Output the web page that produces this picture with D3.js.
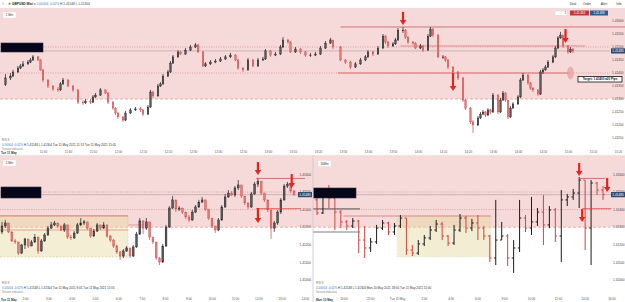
<!DOCTYPE html>
<html>
<head>
<meta charset="utf-8">
<script src="https://cdn.jsdelivr.net/npm/d3@7"></script>
<style>
body { margin: 0; background: #fff; }
svg { display: block; font-family: "Liberation Sans", Arial, sans-serif; }
</style>
</head>
<body>
<svg id="chart" width="625" height="302"></svg>
<script>
// prices are kept as pips above 1.41000
var BASE = 1.41;
function px(v) { return BASE + v / 10000; }

// 1 min bars: [minute after 11:20, close, high, low], open = previous close
var topOpen = 35.5;
var topBars = [
[-5,38.1,39.6,35.0],[-3,38.8,40.0,37.3],[-2,40.4,41.2,38.5],[0,41.9,42.7,40.0],[1,42.7,43.5,41.5],
[2,43.5,44.6,42.3],[4,44.2,45.0,43.1],[5,45.0,45.8,43.8],[6,46.2,46.9,44.6],[8,45.0,46.5,44.6],
[9,41.2,45.4,40.8],[10,37.3,41.5,36.5],[12,35.0,37.7,34.2],[14,33.8,35.4,33.1],[16,33.5,34.6,32.7],
[17,35.8,36.5,33.1],[18,37.3,38.1,35.4],[20,35.0,37.7,34.6],[22,33.5,35.4,32.7],[24,28.8,33.8,28.1],
[26,28.5,29.6,27.7],[27,29.2,30.0,28.1],[29,28.8,30.0,28.1],[30,30.8,31.5,28.5],[31,31.5,32.3,30.4],
[33,33.5,34.2,31.2],[35,32.3,33.8,31.9],[36,28.8,32.7,28.1],[38,26.5,29.2,25.8],[39,24.6,26.9,23.8],
[40,23.1,25.0,22.3],[42,21.9,23.5,21.2],[43,24.6,25.4,21.5],[45,25.8,26.5,24.2],[47,26.2,26.9,25.4],
[49,25.8,26.9,25.0],[50,24.2,26.2,23.5],[52,26.9,27.7,23.8],[53,32.7,33.5,26.5],[54,31.2,33.1,30.4],
[56,35.0,35.8,30.8],[57,35.8,36.5,34.6],[58,38.8,39.6,35.4],[60,40.4,41.2,38.5],[61,43.8,44.6,40.0],
[62,46.2,46.9,43.5],[64,48.1,48.8,45.8],[65,47.3,48.5,46.9],[67,48.8,49.6,47.0],[69,50.0,50.8,48.5],
[71,50.8,51.5,49.6],[72,48.1,51.2,47.7],[74,42.7,48.5,42.3],[75,43.5,44.2,42.3],[77,44.2,45.0,43.1],
[79,44.6,45.4,43.8],[81,45.4,46.2,44.2],[83,46.2,46.9,45.0],[85,46.9,47.7,45.8],[87,45.0,47.3,44.6],
[88,41.9,45.4,41.2],[90,41.2,42.3,40.4],[92,45.0,45.8,40.8],[94,42.7,45.4,42.3],[96,45.0,45.8,42.3],
[98,45.4,46.2,44.6],[99,48.5,49.2,45.0],[101,46.9,48.8,46.2],[103,47.3,48.1,46.5],[105,50.0,50.8,46.9],
[106,52.7,53.8,49.6],[108,51.9,53.1,51.2],[109,48.1,52.3,47.7],[111,49.2,50.0,47.7],[113,48.1,49.6,47.3],
[115,46.9,48.5,46.2],[117,46.9,47.7,46.2],[119,47.3,48.1,46.5],[121,49.6,50.4,46.9],[123,51.5,52.3,49.2],
[125,52.7,53.5,51.2],[126,50.0,52.7,49.2],[129,45.0,50.4,44.6],[131,44.2,45.4,43.5],[133,42.3,44.6,41.5],
[135,43.5,44.2,41.9],[137,45.0,45.8,43.1],[139,46.2,46.9,44.6],[140,48.1,48.8,45.8],[142,47.3,48.5,46.5],
[144,49.6,50.4,46.9],[146,54.2,55.0,49.2],[147,51.9,54.6,51.2],[148,50.4,52.3,49.6],[150,51.2,51.9,50.0],
[151,52.7,53.5,50.8],[152,56.5,57.3,52.3],[154,56.5,57.7,55.4],[155,53.8,56.9,53.1],[156,51.9,54.2,51.2],
[158,51.5,52.3,50.8],[159,49.6,51.9,49.2],[161,50.4,51.2,49.2],[162,48.8,50.8,48.1],[164,54.2,55.0,48.5],
[165,56.9,57.7,53.8],[166,54.6,57.3,53.8],[168,46.2,55.0,45.8],[170,46.2,46.9,45.4],[171,45.0,46.5,44.2],
[172,42.3,45.4,41.5],[174,40.4,42.7,39.6],[176,38.1,40.8,37.3],[178,29.6,38.5,28.8],[179,26.5,30.0,25.8],
[181,21.2,26.9,20.4],[182,20.0,21.9,16.9],[184,22.7,23.5,19.6],[185,24.2,25.0,22.3],[186,25.0,25.8,23.8],
[187,23.8,25.4,23.1],[188,25.8,26.5,23.5],[189,25.0,26.2,24.2],[190,31.5,32.3,24.6],[192,25.0,31.9,24.2],
[193,29.6,30.4,24.6],[194,32.3,33.1,29.2],[195,29.6,32.7,28.8],[196,23.1,29.6,22.3],[197,26.5,27.3,22.7],
[198,28.1,28.8,26.2],[200,30.8,31.5,27.7],[201,37.3,38.1,30.4],[202,39.2,40.0,36.9],[204,36.2,39.6,35.4],
[205,34.2,36.5,33.5],[206,33.5,34.6,32.7],[208,31.9,33.8,31.2],[209,40.4,41.2,31.5],[210,41.2,41.9,39.6],
[211,42.3,43.1,40.8],[212,44.2,45.0,41.9],[214,46.2,46.9,43.8],[215,49.6,50.4,45.8],[216,53.5,54.2,49.2],
[217,54.6,55.8,53.1],[218,50.4,54.2,49.6],[220,48.1,50.8,47.3],[221,49.2,50.0,47.7],[222,48.5,49.6,47.7]
];

// 5 min bars: [close, high, low]
var fiveOpen = 27.3;
var fiveBars = [
[30.7,33.0,26.1],[32.4,34.1,29.5],[27.3,32.4,26.7],[22.2,27.8,21.6],[21.6,23.3,20.5],
[15.3,21.6,14.2],[19.9,20.5,14.8],[23.3,23.9,17.6],[19.3,23.3,18.2],[21.6,22.7,19.3],
[24.4,26.1,21.0],[16.5,24.4,14.8],[22.2,23.3,16.0],[25.6,26.7,21.6],[29.5,30.7,25.0],
[31.3,33.0,29.0],[32.4,33.6,30.7],[30.7,32.4,29.5],[28.4,30.7,27.8],[31.3,32.4,27.3],
[24.4,31.3,23.3],[23.9,25.6,22.7],[26.7,27.8,23.3],[31.3,32.4,26.1],[32.4,35.2,30.7],
[33.0,34.1,31.3],[29.5,33.0,28.4],[25.0,29.5,23.9],[27.8,29.0,24.4],[31.3,32.4,27.3],
[29.5,31.3,28.4],[31.3,33.0,29.0],[25.0,31.3,23.9],[22.7,25.6,21.6],[19.3,23.3,18.2],
[15.9,19.9,14.8],[13.6,16.5,11.4],[16.5,17.6,12.5],[18.2,19.3,15.9],[13.6,18.2,12.5],
[18.8,19.9,13.1],[26.1,27.3,18.2],[33.6,35.2,25.6],[29.5,33.6,26.1],[33.0,35.2,28.4],
[24.4,33.0,22.7],[21.6,24.4,20.5],[12.5,21.6,11.4],[10.2,13.1,8.5],[19.3,20.5,9.7],
[30.1,31.3,18.8],[40.9,42.0,29.5],[45.5,47.7,40.3],[40.3,45.5,38.6],[40.9,42.0,39.2],
[38.6,40.9,37.5],[35.8,38.6,34.7],[34.1,36.9,33.0],[38.6,39.8,33.6],[41.5,42.6,38.0],
[44.3,45.5,40.9],[45.5,47.2,43.8],[40.3,45.5,39.2],[35.2,40.3,34.1],[30.7,35.2,29.5],
[28.4,30.7,26.7],[34.1,35.2,27.8],[41.5,42.6,33.6],[47.2,48.9,40.9],[49.4,51.1,46.6],
[48.3,50.6,47.7],[52.3,53.4,47.2],[54.0,56.8,51.1],[47.7,54.0,46.6],[43.8,47.7,42.6],
[41.5,43.8,40.3],[48.9,50.0,40.9],[54.5,55.7,48.3],[56.2,58.0,52.8],[49.4,56.2,48.3],
[45.5,49.4,44.3],[39.8,45.5,38.6],[29.5,39.8,23.3],[32.4,33.6,27.3],[38.6,39.8,31.3],
[45.5,46.6,37.5],[53.4,54.5,45.0],[54.5,55.7,52.3],[50.6,54.5,49.4],[48.5,51.1,47.7]
];

// 30 min bars: [close, high, low]
var thirtyOpen = 45.5;
var thirtyBars = [
[38.1,47.2,36.9],[47.7,51.1,37.5],[46.6,54.0,40.9],[38.6,48.3,28.4],[33.0,39.8,29.5],
[30.7,34.1,28.4],[33.5,35.2,29.5],[22.7,34.1,15.3],[18.2,30.7,12.5],[21.6,23.9,15.9],
[29.5,31.3,20.5],[32.4,34.1,28.4],[27.3,33.0,25.6],[30.7,32.4,25.6],[35.2,36.9,29.5],
[17.0,35.2,14.2],[15.3,19.9,13.6],[20.5,22.7,14.2],[23.9,25.6,19.3],[28.4,30.7,22.7],
[31.8,34.1,27.3],[25.0,33.0,22.7],[21.0,25.6,19.3],[28.4,31.3,19.9],[35.2,37.5,27.3],
[29.5,36.4,26.7],[32.4,34.7,27.8],[29.5,36.9,22.7],[25.0,30.7,22.7],[12.5,25.6,10.2],
[22.7,45.5,8.5],[25.0,33.0,22.7],[12.5,26.1,8.0],[18.2,22.7,4.0],[35.2,45.5,15.9],
[29.5,36.9,27.3],[33.0,47.2,25.6],[38.6,40.9,30.7],[31.3,48.3,19.9],[39.8,42.0,29.5],
[25.0,40.9,21.6],[45.5,51.1,10.2],[47.2,48.9,42.0],[49.4,51.7,45.5],[56.8,58.5,40.9],
[29.5,56.8,17.0],[55.1,56.8,8.5],[51.1,55.7,48.3],[48.5,53.4,45.5]
];

var topTicks = [1.4160, 1.4155, 1.4150, 1.4145, 1.4140, 1.4135, 1.4130, 1.4125, 1.4120, 1.4115];
var botTicks = [1.4160, 1.4150, 1.4140, 1.4130, 1.4120, 1.4110, 1.4100];

var zoneLow = 1.4130;          // floor of the pink resistance zone
var roundLevels = [1.4150, 1.4140];
var prevHigh = 1.41577;
var lastPrice = 1.41485;
var targetPrice = 1.4140;
var asiaRange = [1.41364, 1.41131];

// arrows: [position, from price, to price]
var topArrows = [[154, 1.41635, 1.41585], [219, 1.41569, 1.41515], [174, 1.41400, 1.41331]];
var fiveArrows = [[78, 1.41670, 1.41597], [88.3, 1.41602, 1.41523], [78, 1.41409, 1.41324]];
var thirtyArrows = [[44, 1.41665, 1.41591], [44.5, 1.41403, 1.41330], [48.7, 1.41580, 1.41500]];

var PINK = "#f6dada", UP_BODY = "#5a5a5a", UP_WICK = "#1c1c1c", DN_BODY = "#e37d7d", DN_WICK = "#d04545";
var fmt = d3.format(".5f");
var svg = d3.select("#chart");

function toBars(rows, open0, timed) {
    var o = open0;
    return rows.map(function(r, i) {
        var k = timed ? 1 : 0;
        var b = {t: timed ? r[0] : i, o: px(o), c: px(r[k]), h: px(r[k + 1]), l: px(r[k + 2])};
        o = r[k];
        return b;
    });
}

function drawCandles(g, bars, xf, y, w) {
    g.selectAll(".wick").data(bars).join("line")
        .attr("x1", xf).attr("x2", xf)
        .attr("y1", function(d) { return y(d.h); })
        .attr("y2", function(d) { return y(d.l); })
        .attr("stroke", function(d) { return d.c >= d.o ? UP_WICK : DN_WICK; })
        .attr("stroke-width", 0.7);
    g.selectAll(".body").data(bars).join("rect")
        .attr("x", function(d) { return xf(d) - w / 2; })
        .attr("width", w)
        .attr("y", function(d) { return y(Math.max(d.o, d.c)); })
        .attr("height", function(d) { return Math.max(0.7, Math.abs(y(d.o) - y(d.c))); })
        .attr("fill", function(d) { return d.c >= d.o ? UP_BODY : DN_BODY; })
        .attr("stroke", function(d) { return d.c >= d.o ? UP_WICK : DN_WICK; })
        .attr("stroke-width", 0.4);
}

function drawOhlc(g, bars, xf, y, w) {
    var sel = g.selectAll(".bar").data(bars).join("g")
        .attr("stroke", function(d) { return d.c >= d.o ? UP_WICK : DN_WICK; })
        .attr("stroke-width", 1);
    sel.append("line").attr("x1", xf).attr("x2", xf)
        .attr("y1", function(d) { return y(d.h); }).attr("y2", function(d) { return y(d.l); });
    sel.append("line").attr("x1", function(d) { return xf(d) - w; }).attr("x2", xf)
        .attr("y1", function(d) { return y(d.o); }).attr("y2", function(d) { return y(d.o); });
    sel.append("line").attr("x1", xf).attr("x2", function(d) { return xf(d) + w; })
        .attr("y1", function(d) { return y(d.c); }).attr("y2", function(d) { return y(d.c); });
}

function hline(g, x1, x2, yv, color, width, dash) {
    g.append("line").attr("x1", x1).attr("x2", x2).attr("y1", yv).attr("y2", yv)
        .attr("stroke", color).attr("stroke-width", width)
        .attr("stroke-dasharray", dash || null);
}

function drawArrows(g, arrows, xs, y) {
    arrows.forEach(function(a) {
        var x = xs(a[0]), y1 = y(a[1]), y2 = y(a[2]);
        g.append("line").attr("x1", x).attr("x2", x).attr("y1", y1).attr("y2", y2 - 4)
            .attr("stroke", "#e8231b").attr("stroke-width", 2.2);
        g.append("path")
            .attr("d", "M" + (x - 3.2) + "," + (y2 - 5) + "L" + (x + 3.2) + "," + (y2 - 5) + "L" + x + "," + y2 + "Z")
            .attr("fill", "#e8231b");
    });
}

function priceAxis(g, ticks, y, xl) {
    g.selectAll(".pl").data(ticks).join("text")
        .attr("x", xl).attr("y", function(d) { return y(d) + 1.1; })
        .attr("font-size", 3.2).attr("fill", "#444")
        .text(fmt);
}

function priceBox(g, xl, yv, w) {
    g.append("rect").attr("x", xl).attr("y", yv - 2.6).attr("width", w).attr("height", 5.2)
        .attr("fill", "#2d4b70");
    g.append("text").attr("x", xl + w / 2).attr("y", yv + 1.1).attr("text-anchor", "middle")
        .attr("font-size", 3.2).attr("fill", "#fff").text(fmt(lastPrice));
}

function blackBox(g, x, y, w, h) {
    g.append("rect").attr("x", x).attr("y", y).attr("width", w).attr("height", h)
        .attr("fill", "#06061a").attr("stroke", "#2a2a3a").attr("stroke-width", 0.6);
}

function tfButton(g, x, y, label) {
    g.append("rect").attr("x", x).attr("y", y).attr("width", 13).attr("height", 6)
        .attr("fill", "#fff").attr("stroke", "#e6dede").attr("stroke-width", 0.4).attr("rx", 0.8);
    g.append("text").attr("x", x + 6.5).attr("y", y + 4.1).attr("text-anchor", "middle")
        .attr("font-size", 3).attr("fill", "#333").text(label);
}

function statusText(g, x, y, from, to) {
    g.append("text").attr("x", x).attr("y", y).attr("font-size", 3).attr("fill", "#777").text("RSI 8");
    var t = g.append("text").attr("x", x).attr("y", y + 5).attr("font-size", 3);
    t.append("tspan").attr("fill", "#3a7bd5").text("0.00004  -0.02%  ");
    t.append("tspan").attr("fill", "#333").text("H 1.41548  L 1.41304   " + from + "   " + to);
    g.append("text").attr("x", x).attr("y", y + 9).attr("font-size", 2.6).attr("fill", "#888").text("Session indicators");
}

function timeAxis(g, scale, ticks, format, yv) {
    var ax = g.append("g").attr("transform", "translate(0," + yv + ")")
        .call(d3.axisBottom(scale).tickValues(ticks).tickFormat(format).tickSize(0).tickPadding(0));
    ax.attr("font-size", 3).attr("font-family", null).attr("color", "#555");
    ax.select(".domain").remove();
}

// ---------- top panel: 1 min ----------
var t0 = new Date(2021, 4, 11, 11, 20);
var xTop = d3.scaleTime().domain([t0, new Date(2021, 4, 11, 15, 20)]).range([18, 618]);
var yTop = d3.scaleLinear().domain([1.4160, 1.4115]).range([21, 138]);
function xMin(m) { return xTop(d3.timeMinute.offset(t0, m)); }

var topPanel = svg.append("g");
topPanel.append("rect").attr("x", 0).attr("y", 8).attr("width", 625).attr("height", yTop(zoneLow) - 8).attr("fill", PINK);
hline(topPanel, 0, 625, 8.3, "#e2e2e2", 0.6);
hline(topPanel, 0, 610, yTop(zoneLow), "#e79a9a", 0.8, "3,2");
roundLevels.forEach(function(p) { hline(topPanel, 0, 610, yTop(p), "#d48888", 0.7, "1,1.4"); });
hline(topPanel, 0, 610, yTop(lastPrice), "#c3a9aa", 0.8);
topPanel.append("rect").attr("x", xMin(153)).attr("width", xMin(227) - xMin(153))
    .attr("y", yTop(1.41508)).attr("height", yTop(1.4150) - yTop(1.41508))
    .attr("fill", "#e6a3a3").attr("opacity", 0.7);
hline(topPanel, xMin(128), xMin(221), yTop(targetPrice), "#e38c8c", 1.3);
hline(topPanel, xMin(129), 625, yTop(prevHigh), "#c25a5a", 0.8);

drawCandles(topPanel.append("g"), toBars(topBars, topOpen, true),
    function(d) { return xMin(d.t); }, yTop, 1.5);
drawArrows(topPanel, topArrows, xMin, yTop);

topPanel.append("ellipse").attr("cx", xMin(221.6)).attr("cy", yTop(targetPrice)).attr("rx", 3).attr("ry", 6)
    .attr("fill", "#eaa5a5").attr("stroke", "#e08a8a").attr("stroke-width", 0.5).attr("opacity", 0.8);
topPanel.append("rect").attr("x", 578).attr("y", yTop(targetPrice) + 3.5).attr("width", 44).attr("height", 5.5)
    .attr("fill", "#fff").attr("stroke", "#111").attr("stroke-width", 0.8);
topPanel.append("text").attr("x", 600).attr("y", yTop(targetPrice) + 7.4).attr("text-anchor", "middle")
    .attr("font-size", 3).attr("font-weight", "bold").attr("fill", "#111")
    .text("Target: " + fmt(targetPrice) + " ±20 Pips");

priceAxis(topPanel, topTicks, yTop, 612);
priceBox(topPanel, 611, yTop(lastPrice), 14);
blackBox(topPanel, 1, 43, 42, 9);
tfButton(topPanel, 3, 12, "1 Min");

// header row
var head = topPanel.append("g");
head.append("text").attr("x", 2).attr("y", 5).attr("font-size", 4).attr("fill", "#888").text("≡");
head.append("circle").attr("cx", 9.5).attr("cy", 3.8).attr("r", 1).attr("fill", "#2eaa3c");
var ht = head.append("text").attr("x", 12).attr("y", 5).attr("font-size", 3.2);
ht.append("tspan").attr("font-weight", "bold").attr("fill", "#222").text("GBPUSD Mini  ▾  ");
ht.append("tspan").attr("fill", "#3a7bd5").text("0.00004  -0.02%  ");
ht.append("tspan").attr("fill", "#444").text("H 1.41548  L 1.41304");
["Deal", "Order", "Alert", "Info"].forEach(function(s, i) {
    head.append("text").attr("x", [573, 587, 604, 619][i]).attr("y", 5).attr("text-anchor", "middle")
        .attr("font-size", 3.2).attr("fill", "#333").text(s);
});
head.append("rect").attr("x", 555).attr("y", 11).attr("width", 12).attr("height", 4.5)
    .attr("fill", "#fff").attr("stroke", "#ccc").attr("stroke-width", 0.4);
head.append("text").attr("x", 566).attr("y", 14.3).attr("text-anchor", "end").attr("font-size", 2.8).attr("fill", "#333").text("1");
head.append("rect").attr("x", 570).attr("y", 10.5).attr("width", 19).attr("height", 5).attr("fill", "#c03a36");
head.append("text").attr("x", 579.5).attr("y", 14.2).attr("text-anchor", "middle").attr("font-size", 2.8).attr("fill", "#fff").text("1.41 484");
head.append("rect").attr("x", 590).attr("y", 10.5).attr("width", 18).attr("height", 5).attr("fill", "#2d5f95");
head.append("text").attr("x", 599).attr("y", 14.2).attr("text-anchor", "middle").attr("font-size", 2.8).attr("fill", "#fff").text("1.41 488");

statusText(topPanel, 2, 140.5, "Tue 11 May 2021 11:13", "Tue 11 May 2021 15:05");
timeAxis(topPanel, xTop, d3.timeMinute.every(10).range(new Date(2021, 4, 11, 11, 30), new Date(2021, 4, 11, 15, 21)),
    d3.timeFormat("%H:%M"), 151);
topPanel.append("text").attr("x", 1).attr("y", 154).attr("font-size", 3).attr("font-weight", "bold").attr("fill", "#333").text("Tue 11 May");

// ---------- bottom panels share one price scale ----------
var yBot = d3.scaleLinear().domain([1.4160, 1.4100]).range([174.4, 280]);

function bottomFrame(g, x0, x1, axisX) {
    g.append("rect").attr("x", x0).attr("y", 155.5).attr("width", x1 - x0).attr("height", yBot(zoneLow) - 155.5).attr("fill", PINK);
    hline(g, x0, axisX, yBot(zoneLow), "#e79a9a", 0.8, "3,2");
    roundLevels.forEach(function(p) { hline(g, x0, axisX, yBot(p), "#d48888", 0.7, "1,1.4"); });
    hline(g, x0, axisX + 2, yBot(lastPrice), "#c3a9aa", 0.8);
}

// ---------- bottom left: 5 min ----------
var xFive = d3.scaleLinear().domain([0, fiveBars.length - 1]).range([2, 294]);
var leftPanel = svg.append("g");
bottomFrame(leftPanel, 0, 313, 297);
// asian session box
leftPanel.append("rect").attr("x", 0).attr("width", xFive(38.4)).attr("y", yBot(asiaRange[0]))
    .attr("height", yBot(asiaRange[1]) - yBot(asiaRange[0]))
    .attr("fill", "#e6d9a0").attr("opacity", 0.45);
leftPanel.append("path")
    .attr("d", "M0," + yBot(asiaRange[1]) + "H" + xFive(38.4) + "V" + yBot(asiaRange[0]))
    .attr("fill", "none").attr("stroke", "#d8c78e").attr("stroke-width", 0.6).attr("stroke-dasharray", "2,1.5");
hline(leftPanel, 0, xFive(38.4), yBot(asiaRange[0]), "#e08585", 1.2);
hline(leftPanel, 0, xFive(38.4), yBot(1.41284), "#d98080", 0.7);
hline(leftPanel, xFive(38.4), xFive(43), yBot(1.41313), "#e39a9a", 0.9);

drawCandles(leftPanel.append("g"), toBars(fiveBars, fiveOpen, false),
    function(d) { return xFive(d.t); }, yBot, 1.8);
hline(leftPanel, xFive(77.5), 305, yBot(prevHigh), "#c25a5a", 0.8);
hline(leftPanel, xFive(77.5), xFive(91), yBot(1.41405), "#d84040", 0.8);
drawArrows(leftPanel, fiveArrows, xFive, yBot);

priceAxis(leftPanel, botTicks, yBot, 299.5);
priceBox(leftPanel, 298, yBot(lastPrice), 14);
blackBox(leftPanel, 1, 187, 40, 11);
tfButton(leftPanel, 3, 160, "5 Min");
statusText(leftPanel, 2, 284, "Tue 11 May 2021 9:05", "Tue 11 May 2021 15:05");
var tFive = d3.scaleTime().domain([new Date(2021, 4, 11, 2), new Date(2021, 4, 11, 14)]).range([25, 305]);
timeAxis(leftPanel, tFive, d3.timeHour.every(1).range(new Date(2021, 4, 11, 2), new Date(2021, 4, 11, 14, 1)),
    d3.timeFormat("%-H:%M"), 298);
leftPanel.append("text").attr("x", 1).attr("y", 301).attr("font-size", 3).attr("font-weight", "bold").attr("fill", "#333").text("Tue 11 May");

// ---------- bottom right: 30 min ----------
var xThirty = d3.scaleLinear().domain([0, thirtyBars.length - 1]).range([317, 603]);
var tThirty = d3.scaleTime().domain([new Date(2021, 4, 10, 18), new Date(2021, 4, 11, 16)]).range([316.6, 611.4]);
var rightPanel = svg.append("g");
bottomFrame(rightPanel, 313, 625, 610);
var asiaStart = tThirty(new Date(2021, 4, 11, 0)), asiaEnd = tThirty(new Date(2021, 4, 11, 7));
rightPanel.append("rect").attr("x", asiaStart).attr("width", asiaEnd - asiaStart).attr("y", yBot(asiaRange[0]))
    .attr("height", yBot(asiaRange[1]) - yBot(asiaRange[0]))
    .attr("fill", "#e6d9a0").attr("opacity", 0.45)
    .attr("stroke", "#d8c78e").attr("stroke-width", 0.6).attr("stroke-dasharray", "2,1.5");
hline(rightPanel, tThirty(new Date(2021, 4, 10, 20)), asiaEnd, yBot(asiaRange[0]), "#e08585", 1.1);
hline(rightPanel, 313, 360, yBot(1.41404), "#333", 0.8);
hline(rightPanel, 313, 360, yBot(1.41273), "#aaa", 1.4);

drawOhlc(rightPanel.append("g"), toBars(thirtyBars, thirtyOpen, false),
    function(d) { return xThirty(d.t); }, yBot, 1.8);
hline(rightPanel, xThirty(44), xThirty(48.3), yBot(prevHigh), "#c25a5a", 0.8);
hline(rightPanel, xThirty(44.5), xThirty(49.4), yBot(1.41405), "#d84040", 0.8);
drawArrows(rightPanel, thirtyArrows, xThirty, yBot);

priceAxis(rightPanel, botTicks, yBot, 613);
priceBox(rightPanel, 611, yBot(lastPrice), 14);
blackBox(rightPanel, 313.5, 188, 42.5, 10);
tfButton(rightPanel, 318, 160.5, "30Min");
statusText(rightPanel, 316, 284, "Mon 10 May 2021 18:00", "Tue 11 May 2021 15:00");
timeAxis(rightPanel, tThirty, d3.timeHour.every(2).range(new Date(2021, 4, 10, 20), new Date(2021, 4, 11, 16, 1)),
    function(d) { return d.getHours() === 0 ? "Tue 11 May" : d3.timeFormat("%-H:%M")(d); }, 298);
rightPanel.append("text").attr("x", 316).attr("y", 301).attr("font-size", 3).attr("font-weight", "bold").attr("fill", "#333").text("Mon 10 May");

// panel borders
hline(svg, 0, 625, 155.3, "#e4dede", 0.6);
svg.append("line").attr("x1", 313).attr("x2", 313).attr("y1", 155).attr("y2", 302)
    .attr("stroke", "#c9c9c9").attr("stroke-width", 0.8);
</script>
</body>
</html>
